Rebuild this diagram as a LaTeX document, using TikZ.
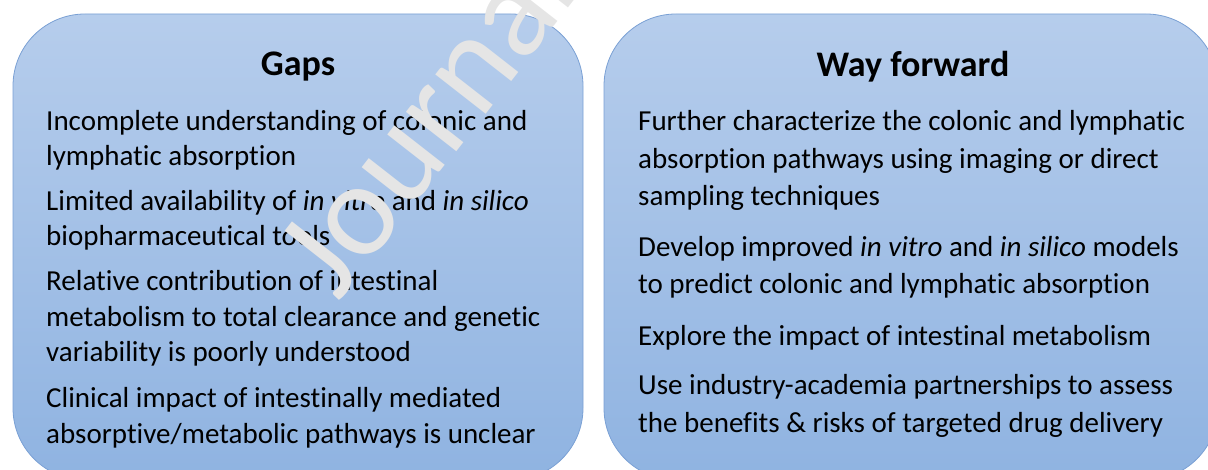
\documentclass[tikz,border=0pt]{standalone}
\usepackage{fontspec}
\setmainfont[Ligatures=NoCommon]{Carlito}
\definecolor{boxtop}{RGB}{182,205,236}
\definecolor{boxbot}{RGB}{143,179,225}
\definecolor{boxline}{RGB}{122,160,212}
\definecolor{wmgray}{RGB}{229,229,229}

\begin{document}
\begin{tikzpicture}[x=1pt,y=-1pt,
	box/.style={draw=boxline, line width=0.8pt, rounded corners=72pt, top color=boxtop, bottom color=boxbot, inner sep=0pt},
	head/.style={inner sep=0pt, font=\fontsize{36}{42}\selectfont\bfseries},
	item/.style={anchor=base west, align=left, inner sep=0pt, font=\fontsize{29}{35.5}\selectfont},
	itemr/.style={item, font=\fontsize{29}{37.5}\selectfont},
	wmark/.style={anchor=base west, inner sep=0pt, text=wmgray, font=\fontsize{134}{140}\selectfont}]
	\useasboundingbox (0,0) rectangle (1208,470);
	% the two panels
	\node[box, minimum width=570pt, minimum height=466pt] (gapsbox) at (298,247) {};
	\node[box, minimum width=614pt, minimum height=466pt] (waybox) at (911,247) {};
	\node[head] (gaps) at (298,67) {Gaps};
	\node[head] (way) at (913,67) {Way forward};
	% left column (anchored on the last line)
	\node[item] (gap1) at (46,166) {Incomplete understanding of colonic and\\lymphatic absorption};
	\node[item] (gap2) at (46,246) {Limited availability of \textit{in vitro} and \textit{in silico}\\biopharmaceutical tools};
	\node[item] (gap3) at (46,362) {Relative contribution of intestinal\\metabolism to total clearance and genetic\\variability is poorly understood};
	\node[item] (gap4) at (46,443) {Clinical impact of intestinally mediated\\absorptive/metabolic pathways is unclear};
	% right column
	\node[itemr] (way1) at (638,206) {Further characterize the colonic and lymphatic\\absorption pathways using imaging or direct\\sampling techniques};
	\node[itemr] (way2) at (638,294) {Develop improved \textit{in vitro} and \textit{in silico} models\\to predict colonic and lymphatic absorption};
	\node[itemr] (way3) at (638,345) {Explore the impact of intestinal metabolism};
	\node[itemr] (way4) at (638,432) {Use industry-academia partnerships to assess\\the benefits \& risks of targeted drug delivery};
	% watermark
	\node[wmark, rotate=52] (jnl) at (338,303) {Journal};
\end{tikzpicture}
\end{document}
